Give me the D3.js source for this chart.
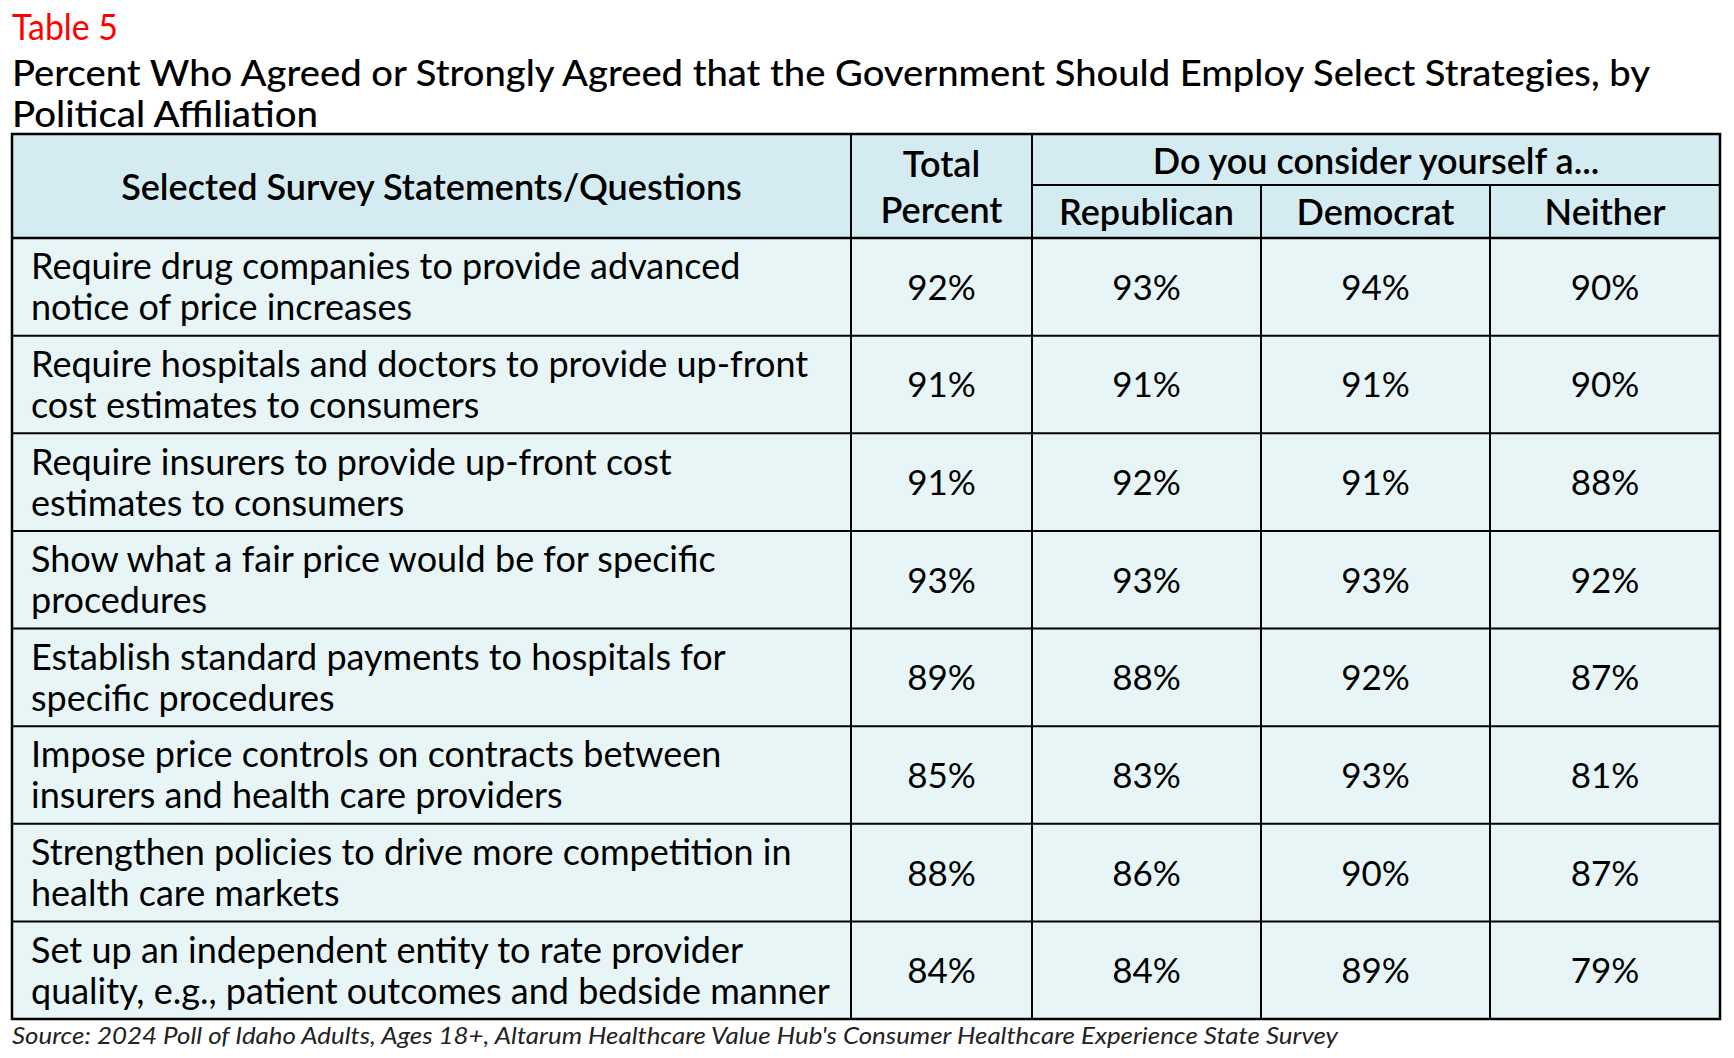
<!DOCTYPE html>
<html><head><meta charset="utf-8">
<script src="https://cdn.jsdelivr.net/npm/d3@7"></script>
<style>body{margin:0;background:#fff;}svg{display:block;font-family:Lato,"Open Sans",sans-serif;}</style>
</head><body>
<svg id="chart" width="1734" height="1058"></svg>
<script>
const tableLabel = "Table 5";
const titleLines = ["Percent Who Agreed or Strongly Agreed that the Government Should Employ Select Strategies, by", "Political Affiliation"];
const sourceText = "Source: 2024 Poll of Idaho Adults, Ages 18+, Altarum Healthcare Value Hub's Consumer Healthcare Experience State Survey";
const headerStatement = "Selected Survey Statements/Questions";
const headerTotal = ["Total", "Percent"];
const headerGroup = "Do you consider yourself a...";
const affiliations = ["Republican", "Democrat", "Neither"];
const statements = [
  ["Require drug companies to provide advanced", "notice of price increases"],
  ["Require hospitals and doctors to provide up-front", "cost estimates to consumers"],
  ["Require insurers to provide up-front cost", "estimates to consumers"],
  ["Show what a fair price would be for specific", "procedures"],
  ["Establish standard payments to hospitals for", "specific procedures"],
  ["Impose price controls on contracts between", "insurers and health care providers"],
  ["Strengthen policies to drive more competition in", "health care markets"],
  ["Set up an independent entity to rate provider", "quality, e.g., patient outcomes and bedside manner"]
];
const totalPct      = [92, 91, 91, 93, 89, 85, 88, 84];
const republicanPct = [93, 91, 92, 93, 88, 83, 86, 84];
const democratPct   = [94, 91, 91, 93, 92, 93, 90, 89];
const neitherPct    = [90, 90, 88, 92, 87, 81, 87, 79];

const svg = d3.select("#chart");
const colKeys = ["statement", "total", "Republican", "Democrat", "Neither"];
const colEdges = [12, 851, 1032, 1261, 1490, 1720];
const xCol = d3.scaleOrdinal().domain(colKeys).range(colEdges.slice(0, 5));
const wCol = d3.scaleOrdinal().domain(colKeys).range(colEdges.slice(1).map((e, i) => e - colEdges[i]));
const tableTop = 134, headerMid = 185, headerBottom = 238, tableBottom = 1019;
const y = d3.scaleBand().domain(d3.range(statements.length)).range([headerBottom, tableBottom]);
const headBg = "#d4ecf1", rowBg = "#e8f5f7";

// title
svg.append("text").attr("x", 12).attr("y", 40).attr("fill", "#ff0000")
  .attr("font-size", 37).attr("textLength", 106).attr("lengthAdjust", "spacingAndGlyphs").text(tableLabel);
titleLines.forEach((t, i) => {
  svg.append("text").attr("x", 12).attr("y", 86 + i * 41).attr("fill", "#000")
    .attr("font-size", 37).attr("font-weight", 500)
    .attr("textLength", i === 0 ? 1638 : 306).attr("lengthAdjust", "spacingAndGlyphs").text(t);
});

// backgrounds
svg.append("rect").attr("x", colEdges[0]).attr("y", tableTop).attr("width", colEdges[5] - colEdges[0])
  .attr("height", headerBottom - tableTop).attr("fill", headBg);
const rows = svg.selectAll("g.row").data(statements).join("g").attr("class", "row");
rows.append("rect").attr("x", colEdges[0]).attr("y", (d, i) => y(i))
  .attr("width", colEdges[5] - colEdges[0]).attr("height", y.bandwidth()).attr("fill", rowBg);

// header texts
const hdr = svg.append("g").attr("font-size", 36).attr("font-weight", 600).attr("fill", "#000");
hdr.append("text").attr("x", xCol("statement") + wCol("statement") / 2).attr("y", 186)
  .attr("text-anchor", "middle").attr("dominant-baseline", "central").text(headerStatement);
headerTotal.forEach((t, i) => hdr.append("text").attr("x", xCol("total") + wCol("total") / 2)
  .attr("y", 163 + i * 46).attr("text-anchor", "middle").attr("dominant-baseline", "central").text(t));
hdr.append("text").attr("x", (colEdges[2] + colEdges[5]) / 2).attr("y", 160)
  .attr("text-anchor", "middle").attr("dominant-baseline", "central").text(headerGroup);
affiliations.forEach(a => hdr.append("text").attr("x", xCol(a) + wCol(a) / 2).attr("y", 211)
  .attr("text-anchor", "middle").attr("dominant-baseline", "central").text(a));

// body texts
rows.each(function(d, i) {
  const g = d3.select(this);
  const cy = y(i) + y.bandwidth() / 2;
  d.forEach((line, j) => g.append("text").attr("x", 31).attr("y", cy + (j - 0.5) * 41 - 1)
    .attr("dominant-baseline", "central").attr("font-size", 36).attr("fill", "#000").text(line));
  const vals = [["total", totalPct[i]], ["Republican", republicanPct[i]], ["Democrat", democratPct[i]], ["Neither", neitherPct[i]]];
  vals.forEach(([k, v]) => g.append("text").attr("x", xCol(k) + wCol(k) / 2).attr("y", cy - 1)
    .attr("text-anchor", "middle").attr("dominant-baseline", "central").attr("font-size", 35)
    .attr("fill", "#000").text(v + "%"));
});

// grid lines
const lines = svg.append("g").attr("stroke", "#000").attr("stroke-width", 2);
y.domain().slice(1).forEach(i => lines.append("line").attr("x1", colEdges[0]).attr("x2", colEdges[5])
  .attr("y1", y(i)).attr("y2", y(i)));
lines.append("line").attr("x1", colEdges[0]).attr("x2", colEdges[5]).attr("y1", headerBottom).attr("y2", headerBottom).attr("stroke-width", 2.5);
lines.append("line").attr("x1", colEdges[2]).attr("x2", colEdges[5]).attr("y1", headerMid).attr("y2", headerMid);
colEdges.slice(1, 5).forEach((e, i) => lines.append("line").attr("x1", e).attr("x2", e)
  .attr("y1", i >= 2 ? headerMid : tableTop).attr("y2", tableBottom));
lines.append("rect").attr("x", colEdges[0]).attr("y", tableTop).attr("width", colEdges[5] - colEdges[0])
  .attr("height", tableBottom - tableTop).attr("fill", "none").attr("stroke-width", 2.5);

// source
svg.append("text").attr("x", 12).attr("y", 1044).attr("font-size", 24).attr("font-style", "italic")
  .attr("textLength", 1326).attr("lengthAdjust", "spacingAndGlyphs")
  .attr("fill", "#222").text(sourceText);
</script>
</body></html>
